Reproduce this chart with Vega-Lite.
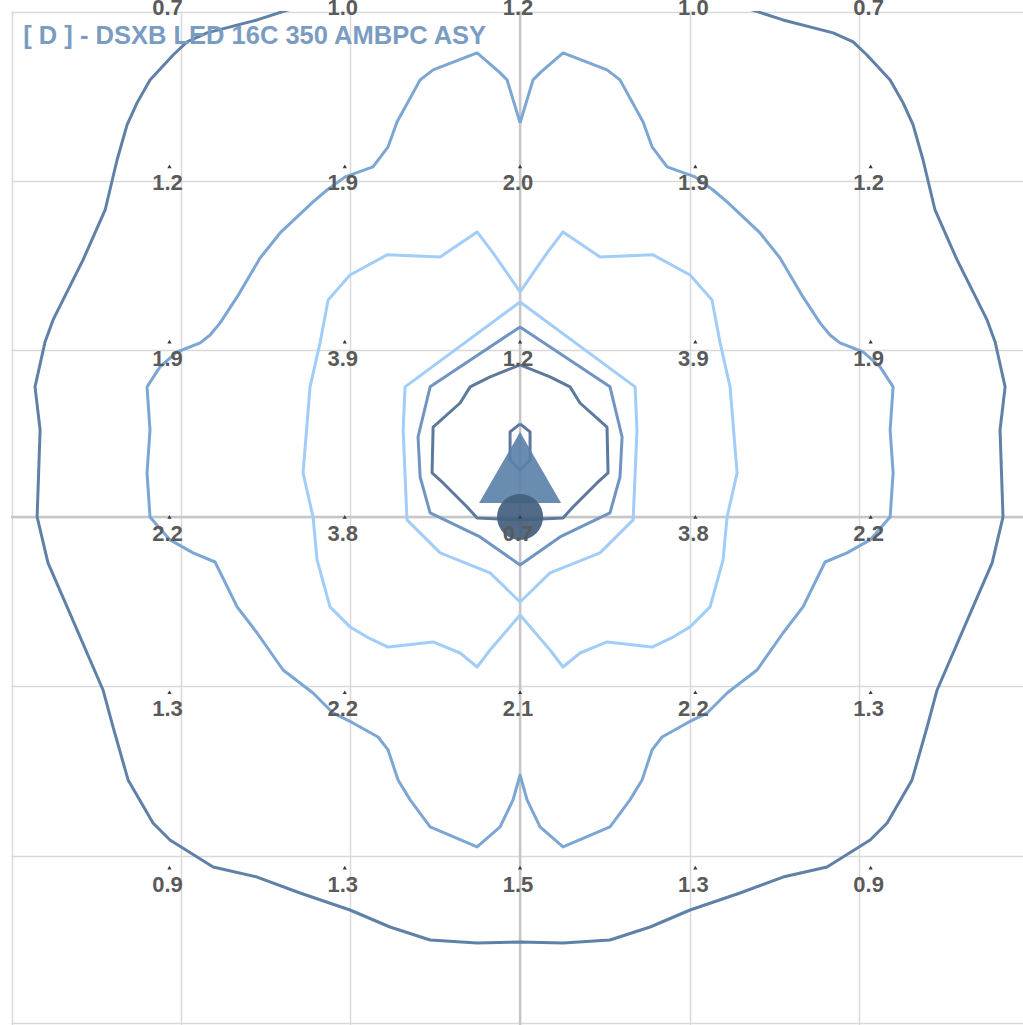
{
"$schema":"https://vega.github.io/schema/vega-lite/v6.json",
"width":1012,"height":1014,
"autosize":{"type":"none"},
"padding":{"left":11,"top":11,"right":0,"bottom":0},
"background":"white",
"data":{"values":[{}]},
"config":{"view":{"stroke":null},"axis":{"title":null,"labels":false,"ticks":false,"domain":false,"grid":true,"gridColor":"#d9d9d9","gridWidth":1.5}},
"datasets":{
"contours":[
{"c":"A","i":0,"x":0,"y":3.12},{"c":"A","i":1,"x":-0.57,"y":3.063},{"c":"A","i":2,"x":-1.084,"y":2.978},{"c":"A","i":3,"x":-1.272,"y":2.909},{"c":"A","i":4,"x":-1.5,"y":2.835},{"c":"A","i":5,"x":-1.786,"y":2.761},{"c":"A","i":6,"x":-1.9,"y":2.71},{"c":"A","i":7,"x":-1.979,"y":2.635},{"c":"A","i":8,"x":-2.111,"y":2.493},{"c":"A","i":9,"x":-2.185,"y":2.362},{"c":"A","i":10,"x":-2.242,"y":2.236},{"c":"A","i":11,"x":-2.299,"y":2.036},{"c":"A","i":12,"x":-2.367,"y":1.751},{"c":"A","i":13,"x":-2.493,"y":1.466},{"c":"A","i":14,"x":-2.664,"y":1.124},{"c":"A","i":15,"x":-2.71,"y":0.998},{"c":"A","i":16,"x":-2.767,"y":0.742},{"c":"A","i":17,"x":-2.738,"y":0.496},{"c":"A","i":18,"x":-2.755,"y":0},{"c":"A","i":19,"x":-2.693,"y":-0.262},{"c":"A","i":20,"x":-2.584,"y":-0.513},{"c":"A","i":21,"x":-2.379,"y":-0.987},{"c":"A","i":22,"x":-2.322,"y":-1.198},{"c":"A","i":23,"x":-2.236,"y":-1.5},{"c":"A","i":24,"x":-2.094,"y":-1.746},{"c":"A","i":25,"x":-1.997,"y":-1.843},{"c":"A","i":26,"x":-1.751,"y":-1.997},{"c":"A","i":27,"x":-1.5,"y":-2.054},{"c":"A","i":28,"x":-1.255,"y":-2.145},{"c":"A","i":29,"x":-0.97,"y":-2.242},{"c":"A","i":30,"x":-0.742,"y":-2.339},{"c":"A","i":31,"x":-0.513,"y":-2.413},{"c":"A","i":32,"x":-0.245,"y":-2.43},{"c":"A","i":33,"x":0,"y":-2.424},{"c":"A","i":34,"x":0.245,"y":-2.43},{"c":"A","i":35,"x":0.513,"y":-2.413},{"c":"A","i":36,"x":0.742,"y":-2.339},{"c":"A","i":37,"x":0.97,"y":-2.242},{"c":"A","i":38,"x":1.255,"y":-2.145},{"c":"A","i":39,"x":1.5,"y":-2.054},{"c":"A","i":40,"x":1.751,"y":-1.997},{"c":"A","i":41,"x":1.997,"y":-1.843},{"c":"A","i":42,"x":2.094,"y":-1.746},{"c":"A","i":43,"x":2.236,"y":-1.5},{"c":"A","i":44,"x":2.322,"y":-1.198},{"c":"A","i":45,"x":2.379,"y":-0.987},{"c":"A","i":46,"x":2.584,"y":-0.513},{"c":"A","i":47,"x":2.693,"y":-0.262},{"c":"A","i":48,"x":2.755,"y":0},{"c":"A","i":49,"x":2.738,"y":0.496},{"c":"A","i":50,"x":2.767,"y":0.742},{"c":"A","i":51,"x":2.71,"y":0.998},{"c":"A","i":52,"x":2.664,"y":1.124},{"c":"A","i":53,"x":2.493,"y":1.466},{"c":"A","i":54,"x":2.367,"y":1.751},{"c":"A","i":55,"x":2.299,"y":2.036},{"c":"A","i":56,"x":2.242,"y":2.236},{"c":"A","i":57,"x":2.185,"y":2.362},{"c":"A","i":58,"x":2.111,"y":2.493},{"c":"A","i":59,"x":1.979,"y":2.635},{"c":"A","i":60,"x":1.9,"y":2.71},{"c":"A","i":61,"x":1.786,"y":2.761},{"c":"A","i":62,"x":1.5,"y":2.835},{"c":"A","i":63,"x":1.272,"y":2.909},{"c":"A","i":64,"x":1.084,"y":2.978},{"c":"A","i":65,"x":0.57,"y":3.063},{"c":"A","i":66,"x":0,"y":3.12},
{"c":"B","i":0,"x":0,"y":2.248},{"c":"B","i":1,"x":-0.074,"y":2.493},{"c":"B","i":2,"x":-0.12,"y":2.539},{"c":"B","i":3,"x":-0.245,"y":2.647},{"c":"B","i":4,"x":-0.496,"y":2.55},{"c":"B","i":5,"x":-0.57,"y":2.493},{"c":"B","i":6,"x":-0.702,"y":2.253},{"c":"B","i":7,"x":-0.753,"y":2.111},{"c":"B","i":8,"x":-0.839,"y":1.997},{"c":"B","i":9,"x":-0.998,"y":1.94},{"c":"B","i":10,"x":-1.101,"y":1.865},{"c":"B","i":11,"x":-1.181,"y":1.797},{"c":"B","i":12,"x":-1.369,"y":1.62},{"c":"B","i":13,"x":-1.483,"y":1.477},{"c":"B","i":14,"x":-1.614,"y":1.255},{"c":"B","i":15,"x":-1.711,"y":1.107},{"c":"B","i":16,"x":-1.768,"y":1.038},{"c":"B","i":17,"x":-1.825,"y":0.993},{"c":"B","i":18,"x":-1.957,"y":0.941},{"c":"B","i":19,"x":-2.054,"y":0.856},{"c":"B","i":20,"x":-2.128,"y":0.742},{"c":"B","i":21,"x":-2.111,"y":0.496},{"c":"B","i":22,"x":-2.128,"y":0.251},{"c":"B","i":23,"x":-2.111,"y":0},{"c":"B","i":24,"x":-1.997,"y":-0.131},{"c":"B","i":25,"x":-1.865,"y":-0.205},{"c":"B","i":26,"x":-1.74,"y":-0.257},{"c":"B","i":27,"x":-1.614,"y":-0.513},{"c":"B","i":28,"x":-1.5,"y":-0.662},{"c":"B","i":29,"x":-1.352,"y":-0.873},{"c":"B","i":30,"x":-1.181,"y":-1.004},{"c":"B","i":31,"x":-1.067,"y":-1.118},{"c":"B","i":32,"x":-0.953,"y":-1.175},{"c":"B","i":33,"x":-0.81,"y":-1.255},{"c":"B","i":34,"x":-0.753,"y":-1.329},{"c":"B","i":35,"x":-0.696,"y":-1.5},{"c":"B","i":36,"x":-0.627,"y":-1.614},{"c":"B","i":37,"x":-0.513,"y":-1.768},{"c":"B","i":38,"x":-0.245,"y":-1.882},{"c":"B","i":39,"x":-0.114,"y":-1.768},{"c":"B","i":40,"x":-0.04,"y":-1.614},{"c":"B","i":41,"x":0,"y":-1.472},{"c":"B","i":42,"x":0.04,"y":-1.614},{"c":"B","i":43,"x":0.114,"y":-1.768},{"c":"B","i":44,"x":0.245,"y":-1.882},{"c":"B","i":45,"x":0.513,"y":-1.768},{"c":"B","i":46,"x":0.627,"y":-1.614},{"c":"B","i":47,"x":0.696,"y":-1.5},{"c":"B","i":48,"x":0.753,"y":-1.329},{"c":"B","i":49,"x":0.81,"y":-1.255},{"c":"B","i":50,"x":0.953,"y":-1.175},{"c":"B","i":51,"x":1.067,"y":-1.118},{"c":"B","i":52,"x":1.181,"y":-1.004},{"c":"B","i":53,"x":1.352,"y":-0.873},{"c":"B","i":54,"x":1.5,"y":-0.662},{"c":"B","i":55,"x":1.614,"y":-0.513},{"c":"B","i":56,"x":1.74,"y":-0.257},{"c":"B","i":57,"x":1.865,"y":-0.205},{"c":"B","i":58,"x":1.997,"y":-0.131},{"c":"B","i":59,"x":2.111,"y":0},{"c":"B","i":60,"x":2.128,"y":0.251},{"c":"B","i":61,"x":2.111,"y":0.496},{"c":"B","i":62,"x":2.128,"y":0.742},{"c":"B","i":63,"x":2.054,"y":0.856},{"c":"B","i":64,"x":1.957,"y":0.941},{"c":"B","i":65,"x":1.825,"y":0.993},{"c":"B","i":66,"x":1.768,"y":1.038},{"c":"B","i":67,"x":1.711,"y":1.107},{"c":"B","i":68,"x":1.614,"y":1.255},{"c":"B","i":69,"x":1.483,"y":1.477},{"c":"B","i":70,"x":1.369,"y":1.62},{"c":"B","i":71,"x":1.181,"y":1.797},{"c":"B","i":72,"x":1.101,"y":1.865},{"c":"B","i":73,"x":0.998,"y":1.94},{"c":"B","i":74,"x":0.839,"y":1.997},{"c":"B","i":75,"x":0.753,"y":2.111},{"c":"B","i":76,"x":0.702,"y":2.253},{"c":"B","i":77,"x":0.57,"y":2.493},{"c":"B","i":78,"x":0.496,"y":2.55},{"c":"B","i":79,"x":0.245,"y":2.647},{"c":"B","i":80,"x":0.12,"y":2.539},{"c":"B","i":81,"x":0.074,"y":2.493},{"c":"B","i":82,"x":0,"y":2.248},
{"c":"C","i":0,"x":0,"y":1.284},{"c":"C","i":1,"x":-0.154,"y":1.506},{"c":"C","i":2,"x":-0.245,"y":1.626},{"c":"C","i":3,"x":-0.456,"y":1.483},{"c":"C","i":4,"x":-0.759,"y":1.495},{"c":"C","i":5,"x":-0.97,"y":1.38},{"c":"C","i":6,"x":-1.095,"y":1.238},{"c":"C","i":7,"x":-1.141,"y":0.993},{"c":"C","i":8,"x":-1.198,"y":0.742},{"c":"C","i":9,"x":-1.238,"y":0.251},{"c":"C","i":10,"x":-1.181,"y":0},{"c":"C","i":11,"x":-1.158,"y":-0.245},{"c":"C","i":12,"x":-1.084,"y":-0.513},{"c":"C","i":13,"x":-0.97,"y":-0.627},{"c":"C","i":14,"x":-0.873,"y":-0.685},{"c":"C","i":15,"x":-0.753,"y":-0.742},{"c":"C","i":16,"x":-0.496,"y":-0.713},{"c":"C","i":17,"x":-0.342,"y":-0.776},{"c":"C","i":18,"x":-0.245,"y":-0.856},{"c":"C","i":19,"x":-0.171,"y":-0.759},{"c":"C","i":20,"x":0,"y":-0.559},{"c":"C","i":21,"x":0.171,"y":-0.759},{"c":"C","i":22,"x":0.245,"y":-0.856},{"c":"C","i":23,"x":0.342,"y":-0.776},{"c":"C","i":24,"x":0.496,"y":-0.713},{"c":"C","i":25,"x":0.753,"y":-0.742},{"c":"C","i":26,"x":0.873,"y":-0.685},{"c":"C","i":27,"x":0.97,"y":-0.627},{"c":"C","i":28,"x":1.084,"y":-0.513},{"c":"C","i":29,"x":1.158,"y":-0.245},{"c":"C","i":30,"x":1.181,"y":0},{"c":"C","i":31,"x":1.238,"y":0.251},{"c":"C","i":32,"x":1.198,"y":0.742},{"c":"C","i":33,"x":1.141,"y":0.993},{"c":"C","i":34,"x":1.095,"y":1.238},{"c":"C","i":35,"x":0.97,"y":1.38},{"c":"C","i":36,"x":0.759,"y":1.495},{"c":"C","i":37,"x":0.456,"y":1.483},{"c":"C","i":38,"x":0.245,"y":1.626},{"c":"C","i":39,"x":0.154,"y":1.506},{"c":"C","i":40,"x":0,"y":1.284},
{"c":"D","i":0,"x":0,"y":1.226},{"c":"D","i":1,"x":-0.656,"y":0.742},{"c":"D","i":2,"x":-0.667,"y":0.496},{"c":"D","i":3,"x":-0.645,"y":-0.017},{"c":"D","i":4,"x":-0.456,"y":-0.205},{"c":"D","i":5,"x":-0.171,"y":-0.319},{"c":"D","i":6,"x":0,"y":-0.485},{"c":"D","i":7,"x":0.171,"y":-0.319},{"c":"D","i":8,"x":0.456,"y":-0.205},{"c":"D","i":9,"x":0.645,"y":-0.017},{"c":"D","i":10,"x":0.667,"y":0.496},{"c":"D","i":11,"x":0.656,"y":0.742},{"c":"D","i":12,"x":0,"y":1.226},
{"c":"E","i":0,"x":0,"y":1.084},{"c":"E","i":1,"x":-0.513,"y":0.742},{"c":"E","i":2,"x":-0.582,"y":0.456},{"c":"E","i":3,"x":-0.57,"y":0.228},{"c":"E","i":4,"x":-0.513,"y":0.023},{"c":"E","i":5,"x":-0.228,"y":-0.114},{"c":"E","i":6,"x":0,"y":-0.274},{"c":"E","i":7,"x":0.228,"y":-0.114},{"c":"E","i":8,"x":0.513,"y":0.023},{"c":"E","i":9,"x":0.57,"y":0.228},{"c":"E","i":10,"x":0.582,"y":0.456},{"c":"E","i":11,"x":0.513,"y":0.742},{"c":"E","i":12,"x":0,"y":1.084},
{"c":"F","i":0,"x":0,"y":0.867},{"c":"F","i":1,"x":-0.171,"y":0.799},{"c":"F","i":2,"x":-0.285,"y":0.742},{"c":"F","i":3,"x":-0.342,"y":0.65},{"c":"F","i":4,"x":-0.496,"y":0.513},{"c":"F","i":5,"x":-0.502,"y":0.251},{"c":"F","i":6,"x":-0.439,"y":0.194},{"c":"F","i":7,"x":-0.302,"y":0.057},{"c":"F","i":8,"x":-0.245,"y":-0.006},{"c":"F","i":9,"x":0,"y":-0.017},{"c":"F","i":10,"x":0.245,"y":-0.006},{"c":"F","i":11,"x":0.302,"y":0.057},{"c":"F","i":12,"x":0.439,"y":0.194},{"c":"F","i":13,"x":0.502,"y":0.251},{"c":"F","i":14,"x":0.496,"y":0.513},{"c":"F","i":15,"x":0.342,"y":0.65},{"c":"F","i":16,"x":0.285,"y":0.742},{"c":"F","i":17,"x":0.171,"y":0.799},{"c":"F","i":18,"x":0,"y":0.867},
{"c":"G","i":0,"x":0,"y":0.531},{"c":"G","i":1,"x":-0.057,"y":0.485},{"c":"G","i":2,"x":-0.057,"y":0.325},{"c":"G","i":3,"x":0,"y":0.268},{"c":"G","i":4,"x":0.057,"y":0.325},{"c":"G","i":5,"x":0.057,"y":0.485},{"c":"G","i":6,"x":0,"y":0.531}
],
"points":[
{"x":-2,"y":3,"v":0.7},{"x":-1,"y":3,"v":1.0},{"x":0,"y":3,"v":1.2},{"x":1,"y":3,"v":1.0},{"x":2,"y":3,"v":0.7},
{"x":-2,"y":2,"v":1.2},{"x":-1,"y":2,"v":1.9},{"x":0,"y":2,"v":2.0},{"x":1,"y":2,"v":1.9},{"x":2,"y":2,"v":1.2},
{"x":-2,"y":1,"v":1.9},{"x":-1,"y":1,"v":3.9},{"x":0,"y":1,"v":1.2},{"x":1,"y":1,"v":3.9},{"x":2,"y":1,"v":1.9},
{"x":-2,"y":0,"v":2.2},{"x":-1,"y":0,"v":3.8},{"x":0,"y":0,"v":0.7},{"x":1,"y":0,"v":3.8},{"x":2,"y":0,"v":2.2},
{"x":-2,"y":-1,"v":1.3},{"x":-1,"y":-1,"v":2.2},{"x":0,"y":-1,"v":2.1},{"x":1,"y":-1,"v":2.2},{"x":2,"y":-1,"v":1.3},
{"x":-2,"y":-2,"v":0.9},{"x":-1,"y":-2,"v":1.3},{"x":0,"y":-2,"v":1.5},{"x":1,"y":-2,"v":1.3},{"x":2,"y":-2,"v":0.9}
],
"arrow":[{"x":0,"y":0.282}],
"pole":[{"x":0,"y":0}]
},
"layer":[
{"mark":{"type":"rule","color":"#c6c6c6","strokeWidth":2.5},
 "encoding":{"x":{"datum":0,"type":"quantitative","scale":{"domain":[-2.904,2.869],"nice":false,"zero":false},"axis":{"values":[-2.9,-1.935,-0.968,0,0.968,1.935,2.9]}}}},
{"mark":{"type":"rule","color":"#c6c6c6","strokeWidth":2.5},
 "encoding":{"y":{"datum":0,"type":"quantitative","scale":{"domain":[-2.898,2.886],"nice":false,"zero":false},"axis":{"values":[2.88,1.915,0.955,0,-0.962,-1.932,-2.885]}}}},
{"data":{"name":"contours"},
 "mark":{"type":"line","strokeWidth":3,"clip":true,"strokeJoin":"round"},
 "encoding":{
  "x":{"field":"x","type":"quantitative","scale":{"domain":[-2.904,2.869],"nice":false,"zero":false},"axis":{"values":[-2.9,-1.935,-0.968,0,0.968,1.935,2.9]}},
  "y":{"field":"y","type":"quantitative","scale":{"domain":[-2.898,2.886],"nice":false,"zero":false},"axis":{"values":[2.88,1.915,0.955,0,-0.962,-1.932,-2.885]}},
  "order":{"field":"i","type":"quantitative"},
  "color":{"field":"c","type":"nominal","legend":null,"scale":{"domain":["A","B","C","D","E","F","G"],"range":["#5f80a7","#7ca6d3","#a2cdf8","#a2cdf8","#7095c0","#5d7a9c","#5d7a9c"]}}
 }},
{"data":{"name":"arrow"},
 "mark":{"type":"point","shape":"M0,-0.866L1,0.866L-1,0.866Z","filled":true,"size":6724,"color":"#5b7fa8","opacity":0.9,"strokeWidth":0},
 "encoding":{
  "x":{"field":"x","type":"quantitative","scale":{"domain":[-2.904,2.869],"nice":false,"zero":false},"axis":{"values":[-2.9,-1.935,-0.968,0,0.968,1.935,2.9]}},
  "y":{"field":"y","type":"quantitative","scale":{"domain":[-2.898,2.886],"nice":false,"zero":false},"axis":{"values":[2.88,1.915,0.955,0,-0.962,-1.932,-2.885]}}}},
{"data":{"name":"pole"},
 "mark":{"type":"point","shape":"circle","filled":true,"size":2124,"color":"#45607f","opacity":0.93,"strokeWidth":0},
 "encoding":{
  "x":{"field":"x","type":"quantitative","scale":{"domain":[-2.904,2.869],"nice":false,"zero":false},"axis":{"values":[-2.9,-1.935,-0.968,0,0.968,1.935,2.9]}},
  "y":{"field":"y","type":"quantitative","scale":{"domain":[-2.898,2.886],"nice":false,"zero":false},"axis":{"values":[2.88,1.915,0.955,0,-0.962,-1.932,-2.885]}}}},
{"data":{"name":"points"},
 "mark":{"type":"point","shape":"triangle-up","filled":true,"size":18,"color":"#3c3c3c","opacity":1},
 "encoding":{
  "x":{"field":"x","type":"quantitative","scale":{"domain":[-2.904,2.869],"nice":false,"zero":false},"axis":{"values":[-2.9,-1.935,-0.968,0,0.968,1.935,2.9]}},
  "y":{"field":"y","type":"quantitative","scale":{"domain":[-2.898,2.886],"nice":false,"zero":false},"axis":{"values":[2.88,1.915,0.955,0,-0.962,-1.932,-2.885]}}}},
{"data":{"name":"points"},
 "mark":{"type":"text","font":"Liberation Sans","fontWeight":"bold","fontSize":22,"color":"#5a5a5a","dy":17,"dx":-2,"baseline":"middle","align":"center"},
 "encoding":{
  "x":{"field":"x","type":"quantitative","scale":{"domain":[-2.904,2.869],"nice":false,"zero":false},"axis":{"values":[-2.9,-1.935,-0.968,0,0.968,1.935,2.9]}},
  "y":{"field":"y","type":"quantitative","scale":{"domain":[-2.898,2.886],"nice":false,"zero":false},"axis":{"values":[2.88,1.915,0.955,0,-0.962,-1.932,-2.885]}},
  "text":{"field":"v","type":"quantitative","format":".1f"}}},
{"mark":{"type":"text","text":"[ D ] - DSXB LED 16C 350 AMBPC ASY","font":"Liberation Sans","fontWeight":"bold","fontSize":25.5,"color":"#7b9cc2","align":"left","baseline":"alphabetic"},
 "encoding":{
  "x":{"datum":-2.834,"type":"quantitative","scale":{"domain":[-2.904,2.869],"nice":false,"zero":false},"axis":{"values":[-2.9,-1.935,-0.968,0,0.968,1.935,2.9]}},
  "y":{"datum":2.7,"type":"quantitative","scale":{"domain":[-2.898,2.886],"nice":false,"zero":false},"axis":{"values":[2.88,1.915,0.955,0,-0.962,-1.932,-2.885]}}}}
]
}
